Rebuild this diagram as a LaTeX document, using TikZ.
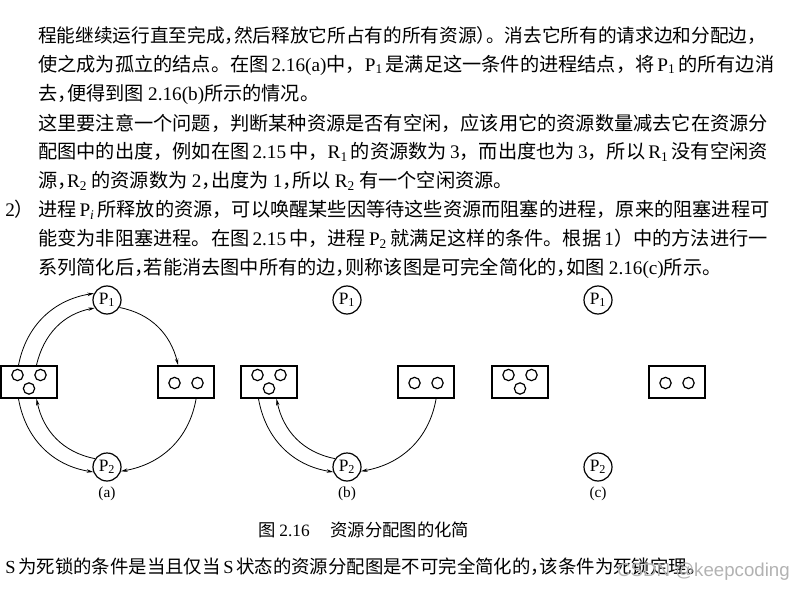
\documentclass[tikz,border=0pt]{standalone}
\usepackage{fontspec}
\setmainfont{Liberation Serif}
\newfontfamily\zh{Noto Sans CJK SC}
\newfontfamily\wmfont{Liberation Sans}
\usetikzlibrary{arrows.meta}
\newcommand\en[1]{{\rmfamily #1}}
\newcommand\fline[1]{\makebox[547pt][s]{#1}}
\newcommand\hc{\makebox[0.5em][l]{，}}
\tikzset{
  txt/.style={anchor=west, inner sep=0pt, font=\zh\fontsize{14.4pt}{17pt}\selectfont},
  proc/.style={circle, draw, line width=0.9pt, minimum size=21pt, inner sep=0pt, font=\fontsize{13pt}{15pt}\selectfont},
  res/.style={rectangle, draw, line width=1.2pt, minimum width=42pt, minimum height=24pt, inner sep=0pt},
  inst/.style={circle, draw, line width=0.9pt, minimum size=8.5pt, inner sep=0pt},
  edge/.style={->, line width=0.6pt}
}
\begin{document}
\begin{tikzpicture}[x=0.75pt, y=-0.75pt, >={Stealth[length=5pt,width=2.6pt]}]
\useasboundingbox (0,0) rectangle (798,591);
% text above the figure
\node[txt, font=\zh\fontsize{14pt}{17pt}\selectfont] (l1) at (38,36) {\fline{程能继续运行直至完成\hc 然后释放它所占有的所有资源\makebox[0.5em][l]{）}。消去它所有的请求边和分配边，}};
\node[txt] (l2) at (38,65) {\fline{使之成为孤立的结点。在图 \en{2.16(a)}中，\en{P\textsubscript{1}} 是满足这一条件的进程结点，将 \en{P\textsubscript{1}} 的所有边消}};
\node[txt] (l3) at (38,94) {去\hc 便得到图 \en{2.16(b)}所示的情况。};
\node[txt] (l4) at (38,123) {\fline{这里要注意一个问题，判断某种资源是否有空闲，应该用它的资源数量减去它在资源分}};
\node[txt] (l5) at (38,152) {\fline{配图中的出度，例如在图 \en{2.15} 中，\en{R\textsubscript{1}} 的资源数为 \en{3}，而出度也为 \en{3}，所以 \en{R\textsubscript{1}} 没有空闲资}};
\node[txt] (l6) at (38,181) {源\hc \en{R\textsubscript{2}} 的资源数为 \en{2}\hc 出度为 \en{1}\hc 所以 \en{R\textsubscript{2}} 有一个空闲资源。};
\node[txt] (l7) at (5,210) {\makebox[24.75pt][l]{\en{2}）}\fline{进程 \en{P\textsubscript{\textit{i}}} 所释放的资源，可以唤醒某些因等待这些资源而阻塞的进程，原来的阻塞进程可}};
\node[txt] (l8) at (38,239) {\fline{能变为非阻塞进程。在图 \en{2.15} 中，进程 \en{P\textsubscript{2}} 就满足这样的条件。根据 \en{1}）中的方法进行一}};
\node[txt] (l9) at (38,268) {系列简化后\hc 若能消去图中所有的边\hc 则称该图是可完全简化的\hc 如图 \en{2.16(c)}所示。};

% the three graphs
\foreach \f/\dx in {a/0,b/240,c/491}{
  \node[proc] (p1\f) at (107+\dx,300) {P\textsubscript{1}};
  \node[proc] (p2\f) at (107+\dx,467) {P\textsubscript{2}};
  \node[res] (r1\f) at (29+\dx,382) {};
  \node[res] (r2\f) at (186+\dx,382) {};
  \node[inst] (r1\f-1) at ([shift={(-11.5,-7)}]r1\f) {};
  \node[inst] (r1\f-2) at ([shift={(11.5,-7)}]r1\f) {};
  \node[inst] (r1\f-3) at ([shift={(0,6.5)}]r1\f) {};
  \node[inst] (r2\f-1) at ([shift={(-11.5,1)}]r2\f) {};
  \node[inst] (r2\f-2) at ([shift={(11.5,1)}]r2\f) {};
  \node[font=\fontsize{11.5pt}{13pt}\selectfont] (lab\f) at (107+\dx,494) {(\f)};
}
% (a)
\draw[edge] (r1a.122) to[out=79,in=189] (p1a.153);
\draw[edge] (r1a.66) to[out=77,in=191] (p1a.213);
\draw[edge] (p1a.329) to[out=-11,in=104] (r2a.115);
\draw[edge] (r2a.301) to[out=260,in=10] (p2a.343);
\draw[edge] (r1a.238) to[out=280,in=171] (p2a.200);
\draw[edge] (p2a.145) to[out=169,in=282] (r1a.294);
% (b)
\draw[edge] (r2b.301) to[out=260,in=10] (p2b.343);
\draw[edge] (r1b.238) to[out=280,in=171] (p2b.200);
\draw[edge] (p2b.145) to[out=169,in=282] (r1b.294);

\node[txt, font=\zh\fontsize{13pt}{16pt}\selectfont] (cap) at (258,530) {图 \en{2.16}\hspace{1.2em}资源分配图的化简};
\node[txt, font=\zh\fontsize{13.8pt}{16pt}\selectfont] (last) at (5,567) {\makebox[525pt][s]{\en{S} 为死锁的条件是当且仅当 \en{S} 状态的资源分配图是不可完全简化的\hc 该条件为死锁定理。}};
\node[anchor=east, inner sep=0pt, text=gray!60, font=\wmfont\fontsize{14pt}{16pt}\selectfont] (wm) at (790,572) {CSDN @keepcoding};
\end{tikzpicture}
\end{document}
